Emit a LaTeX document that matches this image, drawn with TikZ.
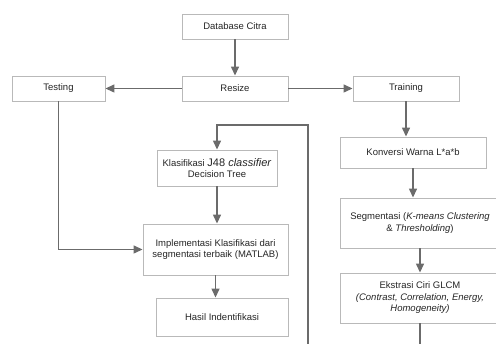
\documentclass[tikz,border=0pt]{standalone}
\usepackage{fontspec}
\setmainfont{Liberation Sans}
\usetikzlibrary{arrows.meta,shadows}

\tikzset{
  box/.style={draw=gray!55, fill=white, line width=0.9pt, text=black!85,
    align=center, inner sep=2pt, font=\fontsize{9.5}{11.5}\selectfont,
    drop shadow={shadow xshift=0.9pt, shadow yshift=-0.9pt, opacity=0.3}},
  flow/.style={draw=black!58, line width=1.4pt, -{Triangle[length=9pt,width=8pt]}},
  wire/.style={draw=black!58, line width=1.4pt}
}

\begin{document}
\begin{tikzpicture}[x=1pt, y=-1pt]
    \useasboundingbox (0,0) rectangle (496,344);
    \clip (0,0) rectangle (496,344);

    % Top row
    \node[box, minimum width=106pt, minimum height=25pt] (db) at (235,26.5) {Database Citra};
    \node[box, minimum width=106pt, minimum height=25pt] (resize) at (235,88.5) {Resize};
    \node[box, minimum width=93pt, minimum height=25pt] (testing) at (58.5,88.5) {Testing};
    \node[box, minimum width=106pt, minimum height=25pt] (training) at (406,88.5) {Training};

    % Training branch
    \node[box, minimum width=146pt, minimum height=31pt] (konversi) at (413,152.5) {Konversi Warna L*a*b};
    \node[box, minimum width=160pt, minimum height=50pt] (segmentasi) at (420,223)
        {Segmentasi (\textit{K-means Clustering}\\ \& \textit{Thresholding})};
    \node[box, minimum width=160pt, minimum height=50pt] (ekstrasi) at (420,298)
        {Ekstrasi Ciri GLCM\\ \textit{(Contrast, Correlation, Energy,}\\ \textit{Homogeneity)}};

    % Testing branch
    \node[box, minimum width=120pt, minimum height=36pt] (klasifikasi) at (217,168)
        {Klasifikasi {\fontsize{11}{12}\selectfont J48 \textit{classifier}}\\ Decision Tree};
    \node[box, minimum width=145pt, minimum height=51pt] (impl) at (215.5,249.5)
        {Implementasi Klasifikasi dari\\ segmentasi terbaik (MATLAB)};
    \node[box, minimum width=132pt, minimum height=38pt] (hasil) at (222,317) {Hasil Indentifikasi};

    % Loose ends leaving the page
    \coordinate (ekout) at (420,350);
    \coordinate (fbin) at (308,350);
    \coordinate (fbtop) at (308,125);

    % Connectors
    \draw[flow] (db) -- (resize);
    \draw[flow] (resize) -- (testing);
    \draw[flow] (resize) -- (training);
    \draw[flow] (training.south) -- (training.south |- konversi.north);
    \draw[flow] (konversi.south) -- (konversi.south |- segmentasi.north);
    \draw[flow] (segmentasi) -- (ekstrasi);
    \draw[wire] (ekstrasi.south) -- (ekout);
    \draw[flow] (fbin) -- (fbtop) -| (klasifikasi.north);
    \draw[flow] (klasifikasi.south) -- (klasifikasi.south |- impl.north);
    \draw[flow] (testing.south) |- (impl.west);
    \draw[flow] (impl.south) -- (impl.south |- hasil.north);
\end{tikzpicture}
\end{document}
